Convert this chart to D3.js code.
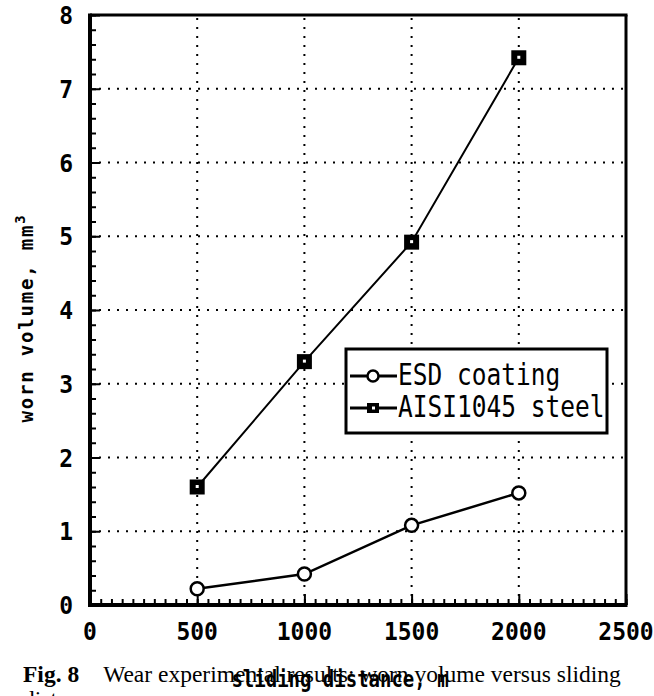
<!DOCTYPE html>
<html>
<head>
<meta charset="utf-8">
<script src="https://cdn.jsdelivr.net/npm/d3@7"></script>
<style>
  body { margin: 0; background: #fff; }
  svg { display: block; }
  .mono { font-family: "DejaVu Sans Mono", "Liberation Mono", monospace; }
</style>
</head>
<body>
<div id="chart"></div>
<script>
// data
var distance = [500, 1000, 1500, 2000];
var esdCoating = [0.22, 0.42, 1.08, 1.52];
var aisiSteel = [1.6, 3.3, 4.92, 7.42];
var seriesNames = ["ESD coating", "AISI1045 steel"];
var xTickValues = [0, 500, 1000, 1500, 2000, 2500];
var yTickValues = [0, 1, 2, 3, 4, 5, 6, 7, 8];

var W = 654, H = 696;
var margin = { top: 15, right: 28, bottom: 91, left: 90 };

var svg = d3.select("#chart").append("svg")
    .attr("width", W)
    .attr("height", H);

var x = d3.scaleLinear().domain([0, 2500]).range([margin.left, W - margin.right]);
var y = d3.scaleLinear().domain([0, 8]).range([H - margin.bottom, margin.top]);

var x0 = x.range()[0], x1 = x.range()[1];
var y0 = y.range()[0], y1 = y.range()[1];

// dotted grid (skip the frame edges)
svg.append("g")
  .selectAll("line.gx")
  .data(xTickValues.filter(function(d) { return d > 0 && d < 2500; }))
  .enter().append("line")
    .attr("x1", function(d) { return x(d); })
    .attr("x2", function(d) { return x(d); })
    .attr("y1", y0)
    .attr("y2", y1)
    .attr("stroke", "#000")
    .attr("stroke-width", 2)
    .attr("stroke-dasharray", "2,7");

svg.append("g")
  .selectAll("line.gy")
  .data(yTickValues.filter(function(d) { return d > 0 && d < 8; }))
  .enter().append("line")
    .attr("x1", x0)
    .attr("x2", x1)
    .attr("y1", function(d) { return y(d); })
    .attr("y2", function(d) { return y(d); })
    .attr("stroke", "#000")
    .attr("stroke-width", 2)
    .attr("stroke-dasharray", "2,7");

// inward ticks: minor then major
var xMinor = svg.append("g")
    .attr("transform", "translate(0," + y0 + ")")
    .call(d3.axisBottom(x).tickValues(d3.range(0, 2501, 50)).tickSize(-6).tickFormat(""));
var xMajor = svg.append("g")
    .attr("transform", "translate(0," + y0 + ")")
    .call(d3.axisBottom(x).tickValues(xTickValues).tickSize(-11).tickFormat(""));
var yMinor = svg.append("g")
    .attr("transform", "translate(" + x0 + ",0)")
    .call(d3.axisLeft(y).tickValues(d3.range(0, 8.01, 0.2)).tickSize(-6).tickFormat(""));
var yMajor = svg.append("g")
    .attr("transform", "translate(" + x0 + ",0)")
    .call(d3.axisLeft(y).tickValues(yTickValues).tickSize(-10).tickFormat(""));

[xMinor, xMajor, yMinor, yMajor].forEach(function(g) {
  g.select(".domain").remove();
  g.selectAll(".tick line").attr("stroke", "#000").attr("stroke-width", 2);
});

// frame, heavier on left and bottom
svg.append("line").attr("x1", x0).attr("x2", x0).attr("y1", y1 - 1.5).attr("y2", y0 + 2)
    .attr("stroke", "#000").attr("stroke-width", 4);
svg.append("line").attr("x1", x0 - 2).attr("x2", x1 + 1.5).attr("y1", y0).attr("y2", y0)
    .attr("stroke", "#000").attr("stroke-width", 4);
svg.append("line").attr("x1", x0).attr("x2", x1 + 1.5).attr("y1", y1).attr("y2", y1)
    .attr("stroke", "#000").attr("stroke-width", 3);
svg.append("line").attr("x1", x1).attr("x2", x1).attr("y1", y1).attr("y2", y0)
    .attr("stroke", "#000").attr("stroke-width", 3);

// tick labels
svg.append("g").selectAll("text")
  .data(xTickValues)
  .enter().append("text")
    .attr("class", "mono")
    .attr("transform", function(d) { return "translate(" + x(d) + ",640) scale(1,1.05)"; })
    .attr("text-anchor", "middle")
    .attr("font-size", 23)
    .attr("font-weight", "bold")
    .text(function(d) { return d; });

svg.append("g").selectAll("text")
  .data(yTickValues)
  .enter().append("text")
    .attr("class", "mono")
    .attr("transform", function(d) { return "translate(73," + (y(d) + 9) + ") scale(1,1.1)"; })
    .attr("text-anchor", "end")
    .attr("font-size", 23)
    .attr("font-weight", "bold")
    .text(function(d) { return d; });

// axis titles
var yTitle = svg.append("text")
    .attr("class", "mono")
    .attr("transform", "translate(33," + 318 + ") rotate(-90)")
    .attr("text-anchor", "middle")
    .attr("font-size", 19)
    .attr("font-weight", "bold")
    .attr("letter-spacing", 1.8);
yTitle.append("tspan").text("worn volume, mm");
yTitle.append("tspan").attr("dy", -8).attr("font-size", 14).text("3");

// lines and markers
var line = d3.line()
    .x(function(d) { return x(d[0]); })
    .y(function(d) { return y(d[1]); });

var esdPts = d3.zip(distance, esdCoating);
var aisiPts = d3.zip(distance, aisiSteel);

svg.append("path").datum(aisiPts)
    .attr("d", line).attr("fill", "none").attr("stroke", "#000").attr("stroke-width", 2);
svg.append("path").datum(esdPts)
    .attr("d", line).attr("fill", "none").attr("stroke", "#000").attr("stroke-width", 2.5);

svg.selectAll(".esd-pt").data(esdPts)
  .enter().append("circle")
    .attr("class", "esd-pt")
    .attr("cx", function(d) { return x(d[0]); })
    .attr("cy", function(d) { return y(d[1]); })
    .attr("r", 6.5)
    .attr("fill", "#fff")
    .attr("stroke", "#000")
    .attr("stroke-width", 2.5);

var sq = 15;
svg.selectAll(".aisi-pt").data(aisiPts)
  .enter().append("rect")
    .attr("class", "aisi-pt")
    .attr("x", function(d) { return x(d[0]) - sq / 2; })
    .attr("y", function(d) { return y(d[1]) - sq / 2; })
    .attr("width", sq)
    .attr("height", sq)
    .attr("fill", "#000");
svg.selectAll(".aisi-in").data(aisiPts)
  .enter().append("rect")
    .attr("class", "aisi-in")
    .attr("x", function(d) { return x(d[0]) - 1.5; })
    .attr("y", function(d) { return y(d[1]) - 2; })
    .attr("width", 3)
    .attr("height", 3)
    .attr("fill", "#fff");

// legend
var lg = svg.append("g");
lg.append("rect")
    .attr("x", 346).attr("y", 349)
    .attr("width", 261).attr("height", 84)
    .attr("fill", "#fff")
    .attr("stroke", "#000")
    .attr("stroke-width", 3);

var rowY = [376, 408];
seriesNames.forEach(function(name, i) {
  lg.append("line")
      .attr("x1", 350).attr("x2", 397)
      .attr("y1", rowY[i]).attr("y2", rowY[i])
      .attr("stroke", "#000").attr("stroke-width", 3);
  if (i === 0) {
    lg.append("circle")
        .attr("cx", 373).attr("cy", rowY[i]).attr("r", 5.5)
        .attr("fill", "#fff").attr("stroke", "#000").attr("stroke-width", 2.5);
  } else {
    lg.append("rect")
        .attr("x", 367).attr("y", rowY[i] - 5).attr("width", 12).attr("height", 10)
        .attr("fill", "#000");
    lg.append("rect")
        .attr("x", 372).attr("y", rowY[i] - 1.5).attr("width", 3).attr("height", 3)
        .attr("fill", "#fff");
  }
  lg.append("text")
      .attr("class", "mono")
      .attr("transform", "translate(398," + (rowY[i] + 9) + ") scale(1,1.22)")
      .attr("font-size", 24.5)
      .text(name);
});

// caption and overlapping x title
var cap = svg.append("text")
    .attr("x", 23).attr("y", 682)
    .attr("font-family", "Liberation Serif, Times New Roman, serif")
    .attr("font-size", 23.5);
cap.append("tspan").attr("font-weight", "bold").text("Fig. 8");
cap.append("tspan").attr("dx", 24).text("Wear experimental results: worn volume versus sliding");

svg.append("text")
    .attr("x", 23).attr("y", 707)
    .attr("font-family", "Liberation Serif, Times New Roman, serif")
    .attr("font-size", 23.5)
    .text("distance");

svg.append("text")
    .attr("class", "mono")
    .attr("transform", "translate(340,687) scale(1,1.2)")
    .attr("text-anchor", "middle")
    .attr("font-size", 19)
    .attr("font-weight", "bold")
    .text("sliding distance, m");
</script>
</body>
</html>
